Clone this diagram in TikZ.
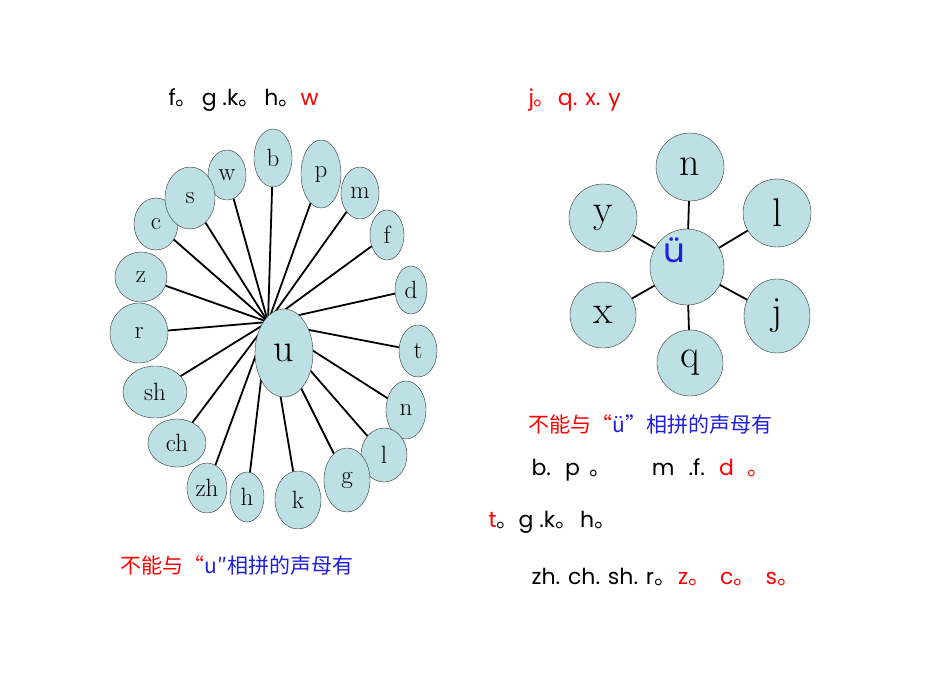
\documentclass[tikz,border=0pt]{standalone}
\usepackage{fontspec}
\usetikzlibrary{shapes.geometric}
\newfontfamily\cjk{Noto Sans CJK SC}
\newfontfamily\sansf{Poppins}
\newcommand{\Dt}{{\cjk 。}}
\definecolor{lb}{RGB}{189,224,228}
\definecolor{bl}{RGB}{30,30,220}
\begin{document}
\begin{tikzpicture}[x=1pt,y=-1pt,
  leaf/.style={draw=black!80,fill=lb,ellipse,inner sep=0pt,font=\fontsize{25}{25}\selectfont},
  big/.style={leaf,font=\fontsize{40}{40}\selectfont},
  spoke/.style={line width=1.8pt},
  txt/.style={anchor=west,font=\sansf\fontsize{22}{22}\selectfont},
  cn/.style={anchor=west,font=\cjk\fontsize{21}{21}\selectfont}]
\path[use as bounding box] (0,0) rectangle (950,672);
% left flower
\foreach \n/\t/\x/\y/\rx/\ry in {b/b/273/158/19/29, w/w/227/175/19/25, p/p/321/174/20/34,
  m/m/360/193/19/26, f/f/387/235/17/25, d/d/411/290/16/24, t/t/418/351/19/26,
  n/n/406/410/20/29, l/l/384/455/23/27, g/g/347/480/23/32, k/k/298/500/23/29,
  h/h/247/497/17/25, zh/zh/207/488/20/25, ch/ch/177/443/29/24, sh/sh/155/392/32/26,
  r/r/139/333/29/30, z/z/141/277/26/25, c/c/156/224/22/26, s/s/190/198/25/31}
  {\node[leaf,minimum width=2*\rx pt,minimum height=2*\ry pt] (L\n) at (\x,\y) {\t};}
\coordinate (hub) at (268,322);
\foreach \n in {b,w,p,m,f,d,t,n,l,g,k,h,zh,ch,sh,r,z,c,s}
  \draw[spoke] (L\n) -- (hub);
\node[big,minimum width=58pt,minimum height=88pt] (u) at (284,353) {u};
% right flower
\coordinate (hub2) at (687,267);
\foreach \n/\x/\y/\rx/\ry in {n/690/167/34/34, y/603/218/34/34, l/777/213/34/34,
  x/603/315/33/33, j/777/316/33/37, q/690/363/33/33}
  {\node[big,minimum width=2*\rx pt,minimum height=2*\ry pt] (R\n) at (\x,\y) {\n};
   \draw[spoke] (R\n) -- (hub2);}
\node[leaf,minimum width=74pt,minimum height=76pt] (uu) at (687,267) {};
\node[font=\sansf\fontsize{34}{34}\selectfont,text=bl] (uul) at (674,250) {ü};
% texts
\node[txt] (t1) at (165,100) {f\Dt\hspace{4pt}g .k\Dt\hspace{4pt}h\Dt\textcolor{red}{w}};
\node[txt,text=red] (t2) at (525,100) {j\Dt\hspace{2pt}q. x. y};
\node[cn,text=red] (c1) at (525,424) {不能与“\textcolor{bl}{ü”相拼的声母有}};
\node[cn,text=red] (c2) at (117,565) {不能与“\textcolor{bl}{u″相拼的声母有}};
\node[txt] (r1) at (528,470) {b.\hspace{14pt}p\hspace{10pt}\Dt\hspace{40pt}m\hspace{14pt}.f.\hspace{14pt}\textcolor{red}{d\hspace{14pt}\Dt}};
\node[txt] (r2) at (485,522) {\textcolor{red}{t}\Dt g .k\Dt\hspace{3pt}h\Dt};
\node[txt] (r3) at (528,577) {zh. ch. sh. r\Dt\hspace{2pt}\textcolor{red}{z\Dt\hspace{10pt}c\Dt\hspace{10pt}s\Dt}};
\end{tikzpicture}
\end{document}
